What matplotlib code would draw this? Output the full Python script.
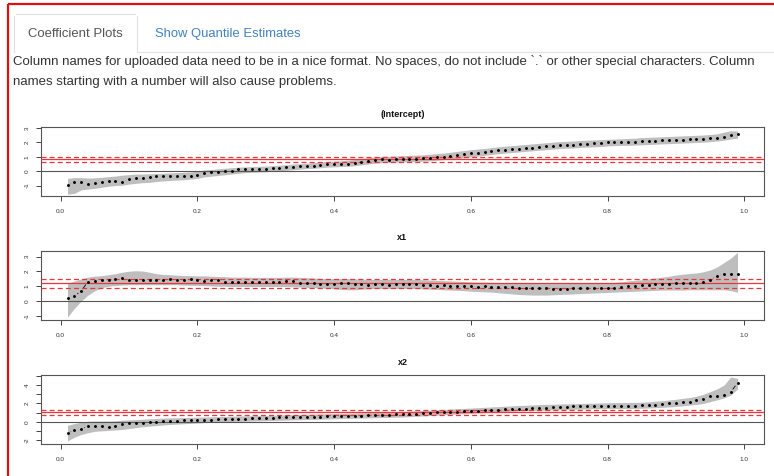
import numpy as np
import matplotlib
matplotlib.use('Agg')
import matplotlib.pyplot as plt
from matplotlib.lines import Line2D
from matplotlib.collections import LineCollection

plt.rcParams['font.family'] = ['Liberation Sans', 'DejaVu Sans']

# ---------------- data ----------------
taus = np.round(np.arange(1, 100) / 100.0, 2)

intercept_est = [
    -0.96, -0.77, -0.75, -0.90, -0.80, -0.75, -0.67, -0.67, -0.72, -0.55,
    -0.45, -0.45, -0.43, -0.37, -0.37, -0.35, -0.37, -0.33, -0.31, -0.26,
    -0.10, -0.08, -0.06, 0.02, 0.02, 0.14, 0.14, 0.16, 0.16, 0.16,
    0.21, 0.24, 0.26, 0.31, 0.33, 0.36, 0.36, 0.45, 0.50, 0.50,
    0.48, 0.52, 0.59, 0.66, 0.73, 0.80, 0.82, 0.78, 0.82, 0.84,
    0.86, 0.88, 0.90, 0.93, 0.98, 1.02, 1.08, 1.12, 1.18, 1.26,
    1.30, 1.34, 1.40, 1.45, 1.50, 1.55, 1.58, 1.62, 1.65, 1.70,
    1.74, 1.78, 1.82, 1.84, 1.86, 1.90, 1.92, 1.94, 1.96, 2.00,
    2.01, 2.02, 2.04, 2.05, 2.08, 2.09, 2.11, 2.14, 2.14, 2.18,
    2.20, 2.21, 2.24, 2.26, 2.30, 2.32, 2.38, 2.50, 2.56]
intercept_hi = [
    -0.50, -0.45, -0.45, -0.48, -0.46, -0.43, -0.38, -0.34, -0.28, -0.24,
    -0.20, -0.20, -0.18, -0.16, -0.15, -0.12, -0.10, -0.08, -0.05, 0.00,
    0.08, 0.12, 0.16, 0.20, 0.24, 0.28, 0.30, 0.32, 0.34, 0.36,
    0.38, 0.42, 0.45, 0.50, 0.52, 0.56, 0.60, 0.65, 0.68, 0.70,
    0.72, 0.76, 0.82, 0.88, 0.94, 1.00, 1.04, 1.04, 1.06, 1.08,
    1.10, 1.12, 1.14, 1.18, 1.22, 1.26, 1.32, 1.38, 1.44, 1.50,
    1.54, 1.58, 1.64, 1.70, 1.74, 1.78, 1.82, 1.86, 1.90, 1.94,
    1.98, 2.02, 2.06, 2.08, 2.10, 2.14, 2.16, 2.18, 2.20, 2.22,
    2.24, 2.26, 2.28, 2.30, 2.34, 2.36, 2.38, 2.40, 2.42, 2.44,
    2.46, 2.48, 2.50, 2.52, 2.56, 2.60, 2.72, 2.82, 2.80]
intercept_lo = [
    -1.60, -1.55, -1.30, -1.25, -1.20, -1.12, -1.05, -1.00, -0.98, -0.90,
    -0.85, -0.80, -0.78, -0.72, -0.68, -0.65, -0.62, -0.60, -0.55, -0.50,
    -0.40, -0.35, -0.30, -0.25, -0.20, -0.15, -0.10, -0.08, -0.06, -0.04,
    0.00, 0.04, 0.06, 0.10, 0.14, 0.18, 0.20, 0.24, 0.28, 0.30,
    0.32, 0.34, 0.38, 0.44, 0.50, 0.56, 0.60, 0.60, 0.62, 0.64,
    0.66, 0.68, 0.70, 0.72, 0.76, 0.80, 0.84, 0.88, 0.94, 1.00,
    1.05, 1.10, 1.16, 1.22, 1.26, 1.30, 1.34, 1.38, 1.42, 1.46,
    1.50, 1.54, 1.58, 1.60, 1.62, 1.66, 1.68, 1.70, 1.72, 1.76,
    1.78, 1.80, 1.80, 1.82, 1.84, 1.86, 1.88, 1.90, 1.92, 1.94,
    1.96, 1.98, 2.00, 2.02, 2.06, 2.10, 2.16, 2.24, 2.30]

x1_est = [
    0.22, 0.33, 0.68, 1.31, 1.35, 1.42, 1.45, 1.48, 1.57, 1.42,
    1.43, 1.43, 1.45, 1.45, 1.45, 1.52, 1.45, 1.45, 1.48, 1.45,
    1.38, 1.40, 1.40, 1.31, 1.29, 1.29, 1.31, 1.27, 1.31, 1.31,
    1.31, 1.31, 1.36, 1.34, 1.24, 1.24, 1.22, 1.17, 1.15, 1.17,
    1.22, 1.24, 1.15, 1.15, 1.10, 1.12, 1.13, 1.10, 1.12, 1.14,
    1.15, 1.12, 1.10, 1.08, 1.04, 1.06, 1.02, 1.04, 1.00, 1.00,
    0.98, 1.00, 0.96, 0.98, 0.93, 0.92, 0.90, 0.88, 0.90, 0.86,
    0.86, 0.84, 0.82, 0.84, 0.86, 0.91, 0.88, 0.86, 0.88, 0.90,
    0.90, 0.96, 1.04, 1.00, 1.06, 1.10, 1.12, 1.12, 1.16, 1.20,
    1.24, 1.22, 1.20, 1.32, 1.45, 1.68, 1.86, 1.86, 1.81]
x1_hi = [
    1.20, 1.35, 1.50, 1.62, 1.68, 1.72, 1.78, 1.85, 1.95, 2.02,
    2.05, 2.03, 1.95, 1.85, 1.80, 1.78, 1.75, 1.72, 1.72, 1.70,
    1.70, 1.68, 1.66, 1.65, 1.62, 1.62, 1.62, 1.60, 1.60, 1.60,
    1.60, 1.60, 1.62, 1.62, 1.60, 1.58, 1.56, 1.54, 1.52, 1.52,
    1.52, 1.52, 1.50, 1.48, 1.46, 1.46, 1.46, 1.46, 1.46, 1.46,
    1.46, 1.46, 1.44, 1.42, 1.40, 1.38, 1.36, 1.34, 1.32, 1.30,
    1.28, 1.28, 1.26, 1.26, 1.24, 1.22, 1.20, 1.20, 1.20, 1.18,
    1.18, 1.18, 1.18, 1.18, 1.20, 1.22, 1.22, 1.22, 1.22, 1.24,
    1.26, 1.30, 1.36, 1.40, 1.44, 1.50, 1.56, 1.62, 1.68, 1.76,
    1.82, 1.86, 1.90, 1.98, 2.10, 2.30, 2.60, 2.90, 3.30]
x1_lo = [
    -1.10, -0.50, 0.00, 0.40, 0.70, 0.90, 1.00, 1.05, 1.08, 1.10,
    1.10, 1.10, 1.10, 1.10, 1.10, 1.10, 1.10, 1.08, 1.06, 1.06,
    1.04, 1.02, 1.00, 1.00, 0.98, 0.98, 0.98, 0.98, 0.98, 0.98,
    0.98, 0.98, 0.98, 0.96, 0.94, 0.92, 0.90, 0.88, 0.86, 0.82,
    0.78, 0.76, 0.76, 0.80, 0.82, 0.84, 0.84, 0.84, 0.84, 0.84,
    0.84, 0.84, 0.82, 0.80, 0.78, 0.76, 0.74, 0.72, 0.70, 0.66,
    0.64, 0.62, 0.60, 0.56, 0.52, 0.48, 0.44, 0.42, 0.40, 0.40,
    0.40, 0.42, 0.44, 0.46, 0.48, 0.50, 0.52, 0.54, 0.56, 0.58,
    0.60, 0.62, 0.64, 0.66, 0.68, 0.70, 0.72, 0.74, 0.74, 0.74,
    0.74, 0.76, 0.76, 0.76, 0.76, 0.76, 0.76, 0.70, 0.60]

x2_est = [
    -1.28, -0.91, -0.84, -0.44, -0.50, -0.47, -0.54, -0.44, -0.22, -0.15,
    -0.18, -0.11, -0.07, -0.07, 0.04, 0.07, 0.11, 0.14, 0.16, 0.18,
    0.16, 0.18, 0.29, 0.29, 0.29, 0.33, 0.33, 0.36, 0.36, 0.44,
    0.40, 0.47, 0.47, 0.47, 0.51, 0.51, 0.47, 0.51, 0.58, 0.62,
    0.62, 0.62, 0.66, 0.66, 0.69, 0.69, 0.69, 0.73, 0.80, 0.80,
    0.84, 0.88, 0.92, 0.98, 1.05, 1.05, 1.10, 1.12, 1.16, 1.20,
    1.22, 1.26, 1.26, 1.30, 1.38, 1.38, 1.42, 1.44, 1.50, 1.53,
    1.55, 1.60, 1.60, 1.64, 1.67, 1.67, 1.70, 1.70, 1.72, 1.74,
    1.74, 1.72, 1.74, 1.76, 1.80, 1.82, 1.86, 1.97, 2.00, 2.07,
    2.12, 2.20, 2.36, 2.50, 2.80, 2.80, 2.98, 3.23, 4.26]
x2_hi = [
    -0.40, -0.20, -0.05, 0.05, 0.08, 0.08, 0.08, 0.10, 0.18, 0.20,
    0.24, 0.28, 0.32, 0.36, 0.40, 0.42, 0.44, 0.46, 0.48, 0.50,
    0.52, 0.54, 0.56, 0.58, 0.60, 0.62, 0.64, 0.66, 0.68, 0.70,
    0.72, 0.74, 0.76, 0.78, 0.80, 0.82, 0.84, 0.86, 0.88, 0.90,
    0.92, 0.94, 0.96, 0.98, 1.00, 1.02, 1.04, 1.06, 1.08, 1.10,
    1.14, 1.18, 1.22, 1.26, 1.30, 1.34, 1.38, 1.42, 1.46, 1.50,
    1.54, 1.58, 1.62, 1.66, 1.70, 1.74, 1.78, 1.80, 1.84, 1.88,
    1.90, 1.92, 1.94, 1.96, 1.98, 2.00, 2.02, 2.04, 2.06, 2.08,
    2.10, 2.10, 2.10, 2.12, 2.14, 2.18, 2.24, 2.30, 2.38, 2.46,
    2.56, 2.66, 2.80, 3.00, 3.30, 3.60, 4.00, 4.90, 4.75]
x2_lo = [
    -2.10, -1.70, -1.40, -1.20, -1.05, -1.00, -0.95, -0.90, -0.85, -0.75,
    -0.65, -0.55, -0.48, -0.42, -0.36, -0.30, -0.26, -0.22, -0.18, -0.14,
    -0.10, -0.06, -0.02, 0.00, 0.02, 0.04, 0.06, 0.08, 0.10, 0.12,
    0.14, 0.16, 0.18, 0.20, 0.22, 0.24, 0.26, 0.28, 0.30, 0.32,
    0.34, 0.36, 0.38, 0.40, 0.42, 0.44, 0.46, 0.48, 0.50, 0.52,
    0.56, 0.60, 0.64, 0.68, 0.72, 0.76, 0.80, 0.84, 0.88, 0.92,
    0.96, 1.00, 1.04, 1.08, 1.12, 1.16, 1.20, 1.22, 1.24, 1.26,
    1.28, 1.30, 1.32, 1.34, 1.36, 1.38, 1.40, 1.42, 1.42, 1.44,
    1.44, 1.44, 1.44, 1.46, 1.48, 1.50, 1.54, 1.58, 1.62, 1.68,
    1.74, 1.82, 1.90, 2.00, 2.20, 2.40, 2.60, 2.90, 3.60]

panel_titles = ['(Intercept)', 'x1', 'x2']
ols_coef = [0.82, 1.20, 1.05]
ols_lo = [0.65, 0.90, 0.75]
ols_hi = [1.02, 1.47, 1.32]
x_ticks = [0.0, 0.2, 0.4, 0.6, 0.8, 1.0]
x_tick_labels = ['0.0', '0.2', '0.4', '0.6', '0.8', '1.0']
y_ticks = [[-1, 0, 1, 2, 3], [-1, 0, 1, 2, 3], [-2, -1, 0, 1, 2, 3, 4, 5]]
y_tick_labels = [['-1', '0', '1', '2', '3'], ['-1', '0', '1', '2', '3'],
                 ['-2', '', '0', '', '2', '', '4', '']]

tab_active = 'Coefficient Plots'
tab_other = 'Show Quantile Estimates'
note_line1 = ('Column names for uploaded data need to be in a nice format. No spaces, '
              'do not include `.` or other special characters. Column')
note_line2 = 'names starting with a number will also cause problems.'

# ---------------- figure ----------------
W, H = 774, 476
fig = plt.figure(figsize=(W / 100, H / 100), dpi=100)
fig.patch.set_facecolor('white')


def fline(x0, y0, x1, y1, **kw):
    fig.add_artist(Line2D([x0 / W, x1 / W], [1 - y0 / H, 1 - y1 / H],
                          transform=fig.transFigure, **kw))


renderer = fig.canvas.get_renderer()


def fit_text(x, y, s, target_w, ha='left', **kw):
    t = fig.text(x / W, 1 - y / H, s, ha=ha, va='center', fontsize=10, **kw)
    w = t.get_window_extent(renderer).width
    t.set_fontsize(10 * target_w / w)
    return t


# red outer border (left and top)
fline(7.5, 3.5, 7.5, H, color='#e01010', lw=1.6, solid_capstyle='butt')
fline(7.5, 3.5, W, 3.5, color='#e01010', lw=1.6, solid_capstyle='butt')

# tabs
tabc = '#e2e2e2'
fline(14, 52, 14, 16, color=tabc, lw=0.8)
fline(16, 14, 135, 14, color=tabc, lw=0.8)
fline(137, 16, 137, 52, color=tabc, lw=0.8)
fline(137, 52, W, 52, color=tabc, lw=0.8)
fit_text(75.5, 34, tab_active, 95, ha='center', color='#555555')
fit_text(155, 34, tab_other, 145, color='#4282c0')
t1 = fit_text(13, 62, note_line1, 745, color='#333333')
fig.text(13 / W, 1 - 82 / H, note_line2, ha='left', va='center',
         fontsize=t1.get_fontsize(), color='#333333')

# ---------------- panels ----------------
panels = [(127, 196, (-1.73, 3.08)), (250.7, 320, (-1.29, 3.41)), (375, 444, (-2.44, 5.12))]
series = [(intercept_est, intercept_lo, intercept_hi),
          (x1_est, x1_lo, x1_hi),
          (x2_est, x2_lo, x2_hi)]
left, right = 40.7, 764.3
xlim = (taus[0] - 0.04 * (taus[-1] - taus[0]), taus[-1] + 0.04 * (taus[-1] - taus[0]))


def draw_type_b(ax, x, y, gap_px=3.6):
    T = ax.transData
    P = T.transform(np.column_stack([x, y]))
    inv = T.inverted()
    segs = []
    for i in range(len(P) - 1):
        d = P[i + 1] - P[i]
        L = np.hypot(d[0], d[1])
        if L > 2 * gap_px:
            u = d / L
            a = P[i] + u * gap_px
            b = P[i + 1] - u * gap_px
            segs.append(inv.transform(np.vstack([a, b])))
    ax.add_collection(LineCollection(segs, colors='black', linewidths=0.6, zorder=4))


for k, ((top, bot, ylim), (est, lo, hi)) in enumerate(zip(panels, series)):
    ax = fig.add_axes([left / W, 1 - bot / H, (right - left) / W, (bot - top) / H])
    ax.set_xlim(*xlim)
    ax.set_ylim(*ylim)
    ax.fill_between(taus, lo, hi, color='#bebebe', lw=0, zorder=1)
    ax.axhline(0, color='#555555', lw=0.8, zorder=2)
    ax.axhline(ols_coef[k], color='#e8373a', lw=0.9, zorder=3)
    ax.axhline(ols_lo[k], color='#e8373a', lw=0.9, ls=(0, (4, 2.5)), zorder=3)
    ax.axhline(ols_hi[k], color='#e8373a', lw=0.9, ls=(0, (4, 2.5)), zorder=3)
    ax.plot(taus, est, 'o', color='black', ms=2.1, mew=0, zorder=5)
    draw_type_b(ax, taus, est)
    for s in ax.spines.values():
        s.set_color('#555555')
        s.set_linewidth(0.8)
    ax.set_xticks(x_ticks)
    ax.set_xticklabels(x_tick_labels)
    ax.set_yticks(y_ticks[k])
    ax.set_yticklabels(y_tick_labels[k])
    ax.tick_params(axis='both', length=3.3, width=0.7, color='#444444',
                   labelsize=4.6, labelcolor='#333333')
    ax.tick_params(axis='x', pad=6.0)
    ax.tick_params(axis='y', pad=4.5, labelrotation=90)
    for lab in ax.get_yticklabels():
        lab.set_va('center')
    ax.set_title(panel_titles[k], fontsize=6.5, fontweight='bold', pad=7.5, color='#111111')

fig.savefig('out.png', dpi=100, facecolor='white')
